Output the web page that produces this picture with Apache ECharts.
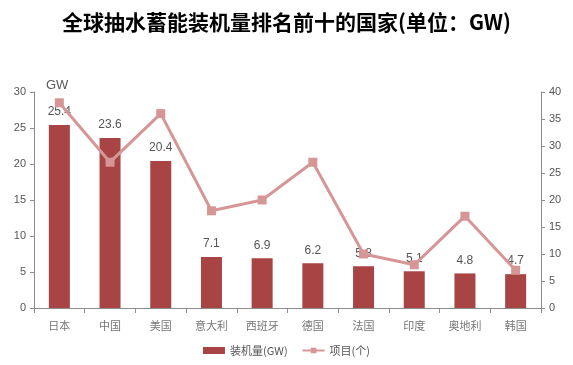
<!DOCTYPE html>
<html><head><meta charset="utf-8">
<script src="https://cdn.jsdelivr.net/npm/echarts@6/dist/echarts.min.js"></script>
<style>html,body{margin:0;padding:0;background:#fff}#c{width:573px;height:365px}</style>
</head><body><div id="c"></div>
<script>
const categories = ['日本','中国','美国','意大利','西班牙','德国','法国','印度','奥地利','韩国'];
const capacity = [25.4, 23.6, 20.4, 7.1, 6.9, 6.2, 5.8, 5.1, 4.8, 4.7];
const projects = [38, 27, 36, 18, 20, 27, 10, 8, 17, 7];
const leftTicks = {min: 0, max: 30, interval: 5};
const rightTicks = {min: 0, max: 40, interval: 5};

const chart = echarts.init(document.getElementById('c'));
const axisLine = {show: true, lineStyle: {color: '#8c8c8c', width: 1}};
const tickLabel = {color: '#555', fontSize: 11, fontFamily: 'Liberation Sans Narrow, Liberation Sans, sans-serif'};
chart.setOption({
  animation: false,
  title: [{
    text: '全球抽水蓄能装机量排名前十的国家(单位：GW)',
    left: 'center', top: 7,
    textStyle: {fontSize: 21, fontWeight: 'bold', color: '#000', fontFamily: 'Noto Sans CJK SC, sans-serif'}
  }, {
    text: 'GW', left: 41, top: 74,
    textStyle: {fontSize: 13, fontWeight: 'normal', color: '#595959', fontFamily: 'Liberation Sans, sans-serif'}
  }],
  legend: {
    bottom: 4, left: 'center', itemGap: 14, itemWidth: 22, itemHeight: 7,
    textStyle: {fontSize: 11, color: '#555', fontFamily: 'Noto Sans CJK SC, sans-serif'},
    data: [{name: '装机量(GW)', icon: 'rect'}, {name: '项目(个)'}]
  },
  grid: {left: 34, right: 32, top: 92, bottom: 57},
  xAxis: {
    type: 'category', data: categories,
    axisLine: axisLine,
    axisTick: {show: true, alignWithLabel: false, length: 5, lineStyle: {color: '#8c8c8c'}},
    axisLabel: {color: '#777', fontSize: 11, margin: 12, fontFamily: 'Noto Sans CJK SC, sans-serif'}
  },
  yAxis: [{
    type: 'value', min: leftTicks.min, max: leftTicks.max, interval: leftTicks.interval,
    axisLine: axisLine, axisTick: {show: true, length: 4, lineStyle: {color: '#8c8c8c'}},
    splitLine: {show: false}, axisLabel: Object.assign({margin: 8}, tickLabel)
  }, {
    type: 'value', min: rightTicks.min, max: rightTicks.max, interval: rightTicks.interval,
    axisLine: axisLine, axisTick: {show: true, length: 4, lineStyle: {color: '#8c8c8c'}},
    splitLine: {show: false}, axisLabel: Object.assign({margin: 8}, tickLabel)
  }],
  series: [{
    name: '装机量(GW)', type: 'bar', data: capacity, barWidth: 21,
    itemStyle: {color: '#a84444'},
    label: {show: true, position: 'top', distance: 7, color: '#555', fontSize: 12, fontFamily: 'Liberation Sans Narrow, Liberation Sans, sans-serif'}
  }, {
    name: '项目(个)', type: 'line', yAxisIndex: 1, data: projects,
    symbol: 'rect', symbolSize: 9,
    lineStyle: {color: '#d69696', width: 3},
    itemStyle: {color: '#d69696'}
  }]
});
</script></body></html>
